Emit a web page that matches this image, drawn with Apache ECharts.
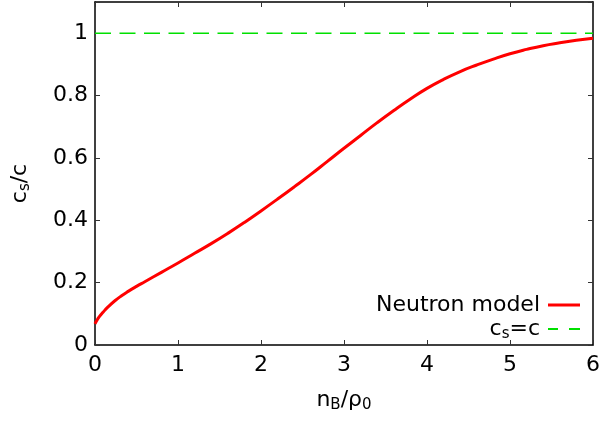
<!DOCTYPE html>
<html>
<head>
<meta charset="utf-8">
<script src="https://cdn.jsdelivr.net/npm/echarts@6/dist/echarts.min.js"></script>
<style>
html,body{margin:0;padding:0;background:#fff;}
#c{width:605px;height:424px;}
</style>
</head>
<body>
<div id="c"></div>
<script>
var xVals = [0, 0.02, 0.05, 0.1, 0.16, 0.24, 0.32, 0.4, 0.5, 0.6, 0.8, 1.0, 1.2, 1.4, 1.6, 1.8, 2.0, 2.2, 2.4, 2.6, 2.8, 3.0, 3.2, 3.4, 3.6, 3.8, 4.0, 4.2, 4.4, 4.6, 4.8, 5.0, 5.2, 5.4, 5.6, 5.8, 6.0];
var csVals = [0.068, 0.078, 0.09, 0.106, 0.123, 0.142, 0.158, 0.172, 0.188, 0.203, 0.233, 0.263, 0.294, 0.325, 0.358, 0.393, 0.43, 0.468, 0.507, 0.547, 0.589, 0.631, 0.672, 0.713, 0.752, 0.789, 0.823, 0.852, 0.877, 0.898, 0.917, 0.934, 0.948, 0.96, 0.969, 0.977, 0.984];
var lightX = [0, 6];
var lightY = [1, 1];
var xTicks = [0, 1, 2, 3, 4, 5, 6];
var yTicks = [0, 0.2, 0.4, 0.6, 0.8, 1];

var FONT = 'DejaVu Sans, sans-serif';
var FS = 22;
var chart = echarts.init(document.getElementById('c'), null, {renderer: 'canvas'});
var neutron = xVals.map(function (x, i) { return [x, csVals[i]]; });
var light = lightX.map(function (x, i) { return [x, lightY[i]]; });
var subRich = {
  n: {fontSize: FS, fontFamily: FONT, color: '#000'},
  sub: {fontSize: 15, fontFamily: FONT, color: '#000', padding: [11, 0, 0, 0]}
};
function yLabel(v) {
  for (var i = 0; i < yTicks.length; i++) if (Math.abs(v - yTicks[i]) < 1e-6) return String(yTicks[i]);
  return '';
}
function xLabel(v) {
  for (var i = 0; i < xTicks.length; i++) if (Math.abs(v - xTicks[i]) < 1e-6) return String(xTicks[i]);
  return '';
}
var axisLine = {show: true, onZero: false, lineStyle: {color: '#000', width: 1.5}};
var tick = {show: true, inside: true, length: 5, lineStyle: {color: '#333', width: 1}};
chart.setOption({
  animation: false,
  backgroundColor: '#fff',
  grid: {left: 95, right: 12, top: 2, bottom: 79, containLabel: false},
  xAxis: [{
    type: 'value', min: 0, max: 6, interval: 1, position: 'bottom',
    axisLine: axisLine, axisTick: tick, splitLine: {show: false},
    axisLabel: {fontSize: FS, fontFamily: FONT, color: '#000', margin: 9, formatter: xLabel},
    name: '{n|n}{sub|B}{n|/ρ}{sub|0}', nameLocation: 'middle', nameGap: 42,
    nameTextStyle: {rich: subRich}
  }, {
    type: 'value', min: 0, max: 6, interval: 1, position: 'top',
    axisLine: axisLine, axisTick: tick, axisLabel: {show: false}, splitLine: {show: false}
  }],
  yAxis: [{
    type: 'value', min: 0, max: 1.1, interval: 0.2, position: 'left',
    axisLine: axisLine, axisTick: tick, splitLine: {show: false},
    axisLabel: {fontSize: FS, fontFamily: FONT, color: '#000', margin: 7, formatter: yLabel},
    name: '{n|c}{sub|s}{n|/c}', nameLocation: 'middle', nameGap: 62, nameRotate: 90,
    nameTextStyle: {rich: subRich, padding: [0, 20, 0, 0]}
  }, {
    type: 'value', min: 0, max: 1.1, interval: 0.2, position: 'right',
    axisLine: axisLine, axisTick: tick, axisLabel: {show: false}, splitLine: {show: false}
  }],
  legend: [{
    data: [{name: 'Neutron model', icon: 'path://M0,0h32v3h-32z'}],
    orient: 'vertical', align: 'right', right: 25, top: 294, padding: 0,
    itemWidth: 32, itemHeight: 3, itemGap: 8,
    textStyle: {fontSize: FS, fontFamily: FONT, color: '#000', padding: [0, 3, 0, 0]}
  }, {
    data: [{name: 'cs=c', icon: 'path://M0,0h10v2h-10zM21,0h11v2h-11z'}],
    orient: 'vertical', align: 'right', right: 25, top: 318, padding: 0,
    itemWidth: 32, itemHeight: 2, itemGap: 8,
    formatter: function () { return '{n|c}{sub|s}{n|=c}'; },
    textStyle: {fontSize: FS, fontFamily: FONT, color: '#000', rich: subRich, padding: [0, 3, 0, 0]}
  }],
  series: [{
    name: 'Neutron model', type: 'line', data: neutron, smooth: 0.5,
    showSymbol: false, symbol: 'none', lineStyle: {color: '#ff0000', width: 3}, itemStyle: {color: '#ff0000'}
  }, {
    name: 'cs=c', type: 'line', data: light, showSymbol: false, symbol: 'none',
    lineStyle: {color: '#00e000', width: 1.5, type: [16, 8.5]}, itemStyle: {color: '#00e000'}
  }]
});
</script>
</body>
</html>
